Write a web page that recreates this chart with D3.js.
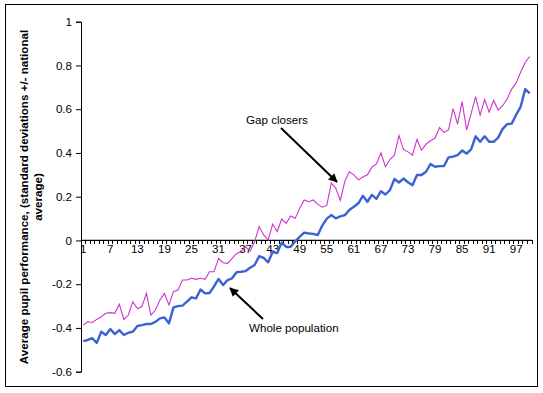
<!DOCTYPE html>
<html><head><meta charset="utf-8">
<script src="https://cdn.jsdelivr.net/npm/d3@7"></script>
<style>
body{margin:0;background:#fff;}
svg{display:block;font-family:"Liberation Sans",Arial,sans-serif;}
</style></head>
<body><svg id="c" width="543" height="393"></svg>
<script>
const categories = d3.range(1, 101);
const gapClosers = [
-0.387,-0.372,-0.375,-0.361,-0.349,-0.333,-0.330,-0.333,-0.292,-0.361,
-0.341,-0.280,-0.311,-0.303,-0.242,-0.341,-0.318,-0.272,-0.242,-0.295,
-0.234,-0.227,-0.181,-0.181,-0.173,-0.178,-0.173,-0.178,-0.143,-0.143,
-0.082,-0.102,-0.105,-0.082,-0.059,-0.052,-0.029,-0.049,-0.005,0.063,
0.025,0.002,0.075,0.040,0.098,0.078,0.112,0.101,0.147,0.185,
0.177,0.185,0.165,0.152,0.160,0.263,0.238,0.183,0.270,0.314,
0.300,0.277,0.290,0.300,0.335,0.350,0.400,0.337,0.370,0.390,
0.480,0.416,0.405,0.390,0.462,0.413,0.440,0.456,0.468,0.516,
0.493,0.506,0.603,0.532,0.635,0.505,0.580,0.657,0.573,0.644,
0.586,0.640,0.596,0.616,0.648,0.692,0.721,0.770,0.815,0.841];
const wholePopulation = [
-0.460,-0.455,-0.447,-0.468,-0.417,-0.432,-0.405,-0.428,-0.410,-0.432,
-0.422,-0.417,-0.391,-0.387,-0.382,-0.382,-0.372,-0.356,-0.352,-0.379,
-0.306,-0.300,-0.298,-0.280,-0.260,-0.265,-0.224,-0.242,-0.240,-0.210,
-0.176,-0.204,-0.181,-0.173,-0.145,-0.143,-0.140,-0.125,-0.112,-0.072,
-0.080,-0.100,-0.052,-0.058,-0.010,-0.030,-0.029,-0.004,0.017,0.036,
0.032,0.030,0.025,0.068,0.100,0.116,0.101,0.110,0.116,0.139,
0.154,0.170,0.204,0.177,0.208,0.190,0.225,0.210,0.230,0.281,
0.265,0.283,0.266,0.252,0.299,0.299,0.314,0.349,0.337,0.340,
0.340,0.380,0.383,0.390,0.411,0.397,0.416,0.476,0.451,0.476,
0.451,0.451,0.470,0.510,0.532,0.534,0.575,0.612,0.692,0.672];
const xTickLabels = [1,7,13,19,25,31,37,43,49,55,61,67,73,79,85,91,97];
const yTicks = [-0.6,-0.4,-0.2,0,0.2,0.4,0.6,0.8,1];
const yTitle = ["Average pupil performance, (standard deviations +/- national","average)"];
const annotations = [
  {text:"Gap closers", series:"gap", at:57},
  {text:"Whole population", series:"whole", at:33}
];

const FS = "11.6px";
const svg = d3.select("#c");
svg.append("rect").attr("x",5.5).attr("y",4.5).attr("width",532).attr("height",382)
  .attr("fill","#fff").attr("stroke","#000").attr("stroke-width",1);

const x = d3.scaleBand().domain(categories).range([81, 532]);
const y = d3.scaleLinear().domain([-0.6, 1]).range([371.7, 21.7]);
const cx = d => x(d) + x.bandwidth()/2;

// Y axis
const yAxis = svg.append("g").attr("transform","translate(81,0)")
  .call(d3.axisLeft(y).tickValues(yTicks).tickSize(5).tickPadding(4)
    .tickFormat(d => String(+d.toFixed(1))));
yAxis.select(".domain").attr("stroke","#000");
yAxis.selectAll("text").attr("font-size",FS).attr("fill","#000").attr("font-family","Liberation Sans, Arial");

// X axis at y=0
const y0 = y(0);
const xAxis = svg.append("g").attr("transform",`translate(0,${y0})`)
  .call(d3.axisBottom(x).tickValues(xTickLabels).tickSize(0).tickPadding(4));
xAxis.select(".domain").remove();
xAxis.selectAll("text").attr("font-size",FS).attr("fill","#000").attr("font-family","Liberation Sans, Arial");
const bounds = categories.map(c => x(c)).concat([x(categories[categories.length-1]) + x.bandwidth()]);
svg.append("g").selectAll("line").data(bounds).join("line")
  .attr("x1",d=>d).attr("x2",d=>d).attr("y1",y0).attr("y2",y0+4)
  .attr("stroke","#000").attr("stroke-width",1).attr("shape-rendering","crispEdges");
svg.append("line").attr("x1",81).attr("x2",532).attr("y1",y0).attr("y2",y0)
  .attr("stroke","#000").attr("stroke-width",1.2);

// Y title
const t = svg.append("text").attr("transform","translate(28,197) rotate(-90)")
  .attr("text-anchor","middle").attr("font-size",FS).attr("font-weight","bold").attr("fill","#000");
yTitle.forEach((s,i)=>t.append("tspan").attr("x",0).attr("dy", i===0?0:"1.2em").text(s));

// Lines
const line = d3.line().x((d,i)=>cx(categories[i])).y(d=>y(d));
svg.append("path").datum(gapClosers).attr("d",line).attr("fill","none")
  .attr("stroke","#cc33cc").attr("stroke-width",1.1);
svg.append("path").datum(wholePopulation).attr("d",line).attr("fill","none")
  .attr("stroke","#3a62d4").attr("stroke-width",2.4).attr("stroke-linejoin","round");

// Arrows & labels
svg.append("defs").append("marker").attr("id","ah").attr("viewBox","0 0 10 10")
  .attr("refX",9).attr("refY",5).attr("markerWidth",4.5).attr("markerHeight",4.5)
  .attr("orient","auto").attr("markerUnits","strokeWidth")
  .append("path").attr("d","M0,0 L10,5 L0,10 z").attr("fill","#000");
svg.append("line").attr("x1",281).attr("y1",128).attr("x2",337).attr("y2",182)
  .attr("stroke","#000").attr("stroke-width",2).attr("marker-end","url(#ah)");
svg.append("line").attr("x1",263).attr("y1",319).attr("x2",230).attr("y2",288)
  .attr("stroke","#000").attr("stroke-width",2).attr("marker-end","url(#ah)");
svg.append("text").attr("x",246).attr("y",124).attr("font-size",FS).attr("fill","#000").text(annotations[0].text);
svg.append("text").attr("x",249).attr("y",332).attr("font-size",FS).attr("fill","#000").text(annotations[1].text);
</script></body></html>
